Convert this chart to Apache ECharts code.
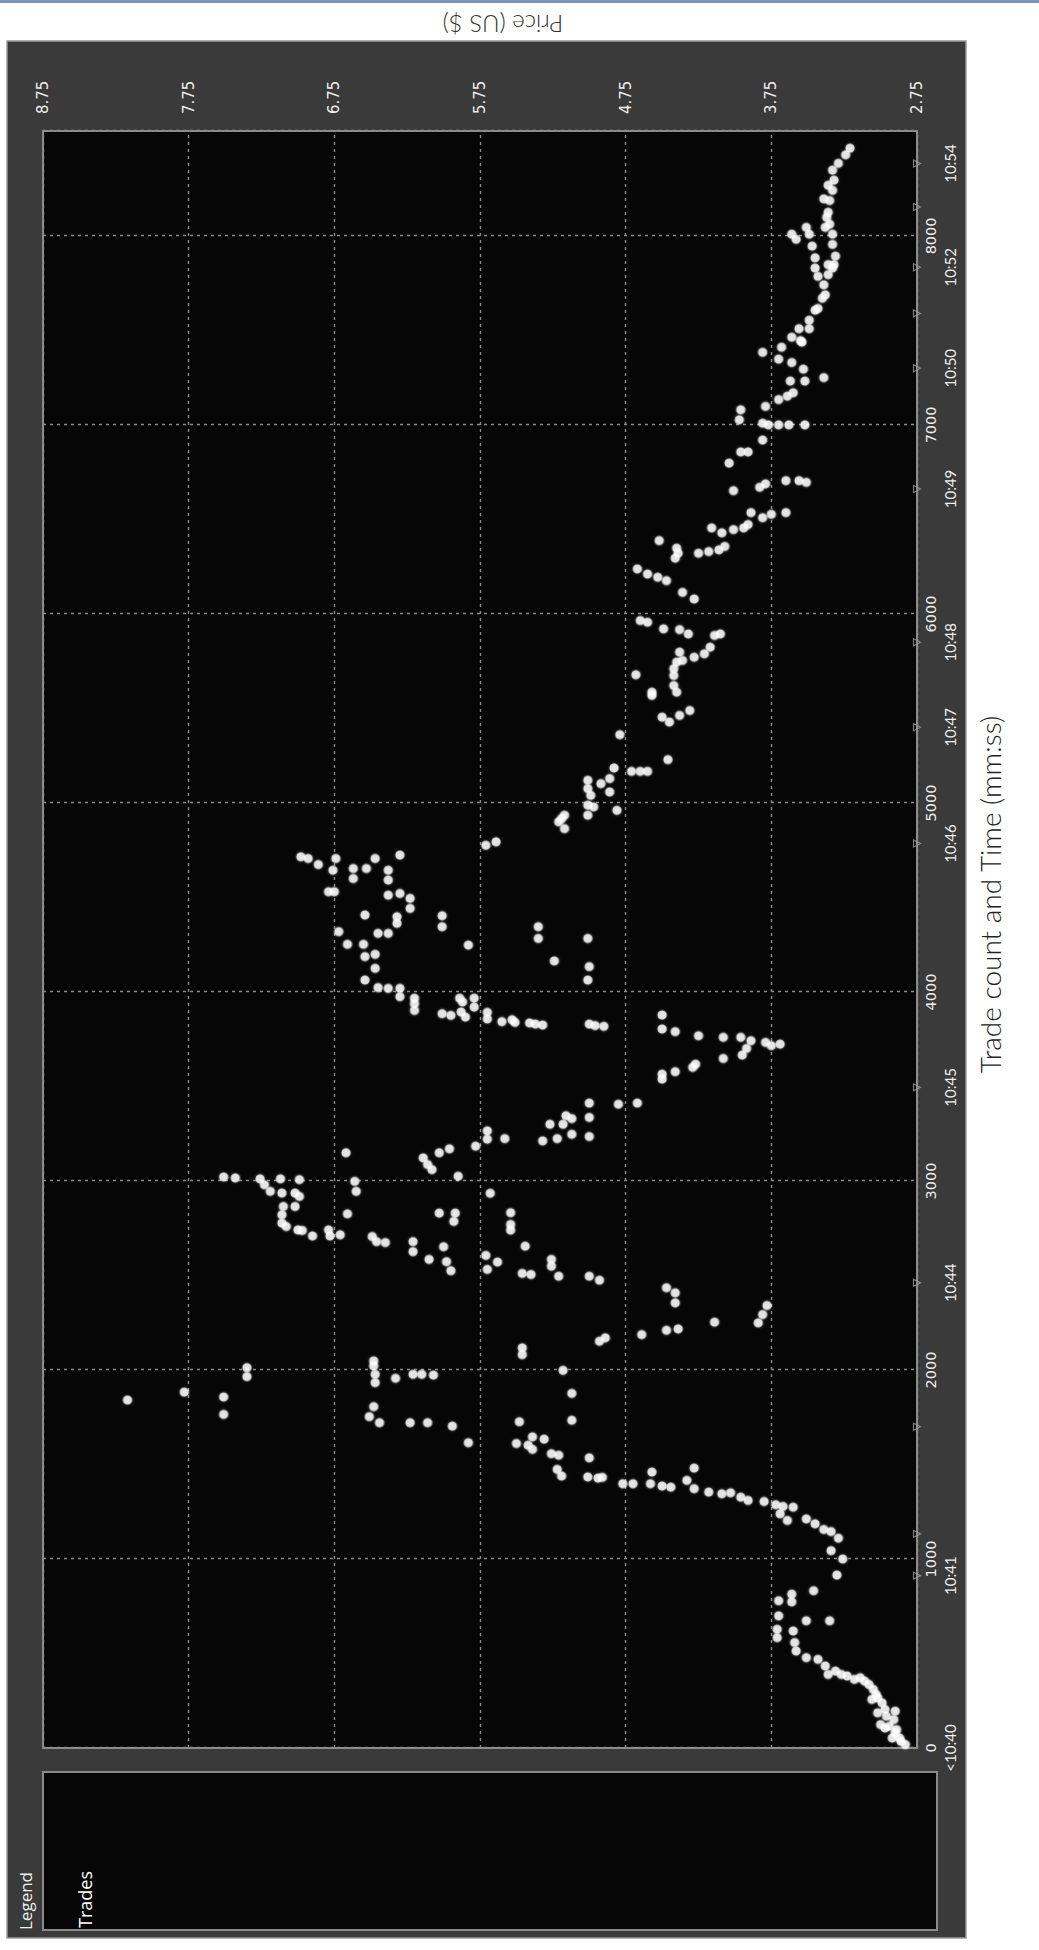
<!DOCTYPE html>
<html><head><meta charset="utf-8">
<script src="https://cdn.jsdelivr.net/npm/echarts@6/dist/echarts.min.js"></script>
<style>
html,body{margin:0;padding:0;background:#fff;width:1039px;height:1950px;overflow:hidden;}
#chart{position:absolute;left:0;top:0;width:1950px;height:1039px;transform-origin:0 0;transform:translate(0,1950px) rotate(-90deg);}
</style></head><body><div id="chart"></div>
<script>
// ---- axis ticks / labels ----
const countTicks = [0, 1000, 2000, 3000, 4000, 5000, 6000, 7000, 8000];
const priceTicks = ['2.75', '3.75', '4.75', '5.75', '6.75', '7.75', '8.75'];
const minuteNames  = ['<10:40', '10:41', '10:42', '10:43', '10:44', '10:45', '10:46', '10:47', '10:48', '10:49', '10:50', '10:51', '10:52', '10:53', '10:54'];
const minuteTrades = [0, 912, 1133, 1700, 2461, 3495, 4785, 5400, 5850, 6661, 7300, 7590, 7834, 8153, 8383];
const minuteLabelShown = ['<10:40', '10:41', '10:44', '10:45', '10:46', '10:47', '10:48', '10:49', '10:50', '10:52', '10:54'];

// ---- trades: [trade count, price US$] ----
const tradesOpen = [[18,2.83],[35,2.86],[53,2.87],[53,2.92],[80,2.90],[97,2.89],[106,2.97],[115,2.94],[124,3.00],[150,2.91],[168,2.96],[186,3.02],[195,2.90],[204,2.97],[239,2.99],[257,3.06],[265,3.02],[283,3.03],[310,3.05],[336,3.08],[354,3.11],[363,3.18],[372,3.14],[381,3.23],[389,3.27],[389,3.36],[407,3.31],[434,3.38],[469,3.43],[478,3.51],[513,3.58],[558,3.59],[584,3.71],[619,3.60],[628,3.71],[673,3.51],[673,3.35],[699,3.70],[773,3.61],[779,3.70],[814,3.61],[832,3.46],[915,3.30],[1000,3.26],[1044,3.34],[1110,3.29],[1145,3.34],[1156,3.39],[1186,3.45],[1204,3.64],[1212,3.51],[1239,3.69],[1274,3.60],[1278,3.67],[1287,3.72],[1304,3.80],[1310,3.91],[1327,3.96],[1350,4.03],[1345,4.09],[1354,4.18],[1372,4.28],[1416,4.33],[1481,4.28],[1380,4.44],[1386,4.50],[1398,4.58],[1460,4.57],[1398,4.70],[1398,4.77],[1432,4.91],[1428,4.94],[1434,5.01],[1535,5.00],[1439,5.19],[1474,5.22],[1549,5.21],[1557,5.26],[1634,5.31],[1580,5.39],[1646,5.39],[1602,5.42],[1611,5.50],[1726,5.48],[1734,5.12],[1876,5.12]];
const tradesSpikeHigh = [[1841,8.17],[1883,7.78],[1857,7.51],[1765,7.51],[2012,7.35],[1965,7.35],[2048,6.48],[2021,6.48],[1977,6.47],[1933,6.47],[1956,6.33],[1977,6.21],[1977,6.15],[1973,6.07],[1806,6.48],[1753,6.51],[1721,6.44],[1721,6.23],[1721,6.11],[1703,5.94],[1615,5.83]];
const tradesMidLow = [[3892,5.70],[3857,5.70],[3843,5.60],[3853,5.53],[3839,5.51],[3836,5.41],[3830,5.37],[3825,5.32],[3830,5.00],[3822,4.96],[3818,4.90],[3878,4.50],[3804,4.50],[3790,4.41],[3768,4.25],[3760,4.08],[3760,3.96],[3742,3.89],[3733,3.79],[3716,3.75],[3724,3.69],[3701,3.92],[3666,3.95],[3648,4.08],[3618,4.27],[3601,4.29],[3578,4.41],[3565,4.50],[3539,4.50],[3412,5.00],[3336,5.00],[3235,5.00],[3406,4.80],[3412,4.67],[3300,5.27],[3300,5.18],[3345,5.16],[3330,5.12],[3247,5.12],[3224,5.22],[3212,5.32],[3224,5.58],[3265,5.70],[3221,5.70],[2935,5.68],[2832,5.54],[2770,5.54],[2740,5.54],[2655,5.44],[2606,5.71],[2532,5.70],[2571,5.63],[2511,5.46],[2505,5.40],[2585,5.26],[2549,5.26],[2496,5.21],[2496,5.00],[2475,4.93],[2435,4.47],[2408,4.41],[2355,4.41],[2187,4.64],[2210,4.47],[2217,4.39],[2253,4.14],[2249,3.84],[2293,3.81],[2341,3.78],[2152,4.93],[2170,4.89],[2117,5.46],[2081,5.46],[1998,5.18]];
const tradesMidHigh = [[3938,6.20],[3902,6.20],[3885,6.01],[3876,5.95],[3894,5.88],[3947,5.87],[3867,5.85],[3920,5.79],[3184,5.78],[3170,5.96],[3149,6.03],[3122,6.14],[3087,6.11],[3060,6.08],[3025,5.90],[3149,6.67],[3021,7.51],[3016,7.43],[3011,7.26],[3011,7.12],[3007,6.99],[2980,7.23],[2945,7.19],[2936,7.11],[2936,7.02],[2918,6.99],[2865,7.10],[2865,7.02],[2821,7.11],[2777,7.11],[2759,7.08],[2741,7.00],[2738,6.97],[2709,6.90],[2741,6.79],[2709,6.78],[2715,6.71],[2998,6.61],[2945,6.60],[2826,6.66],[2706,6.49],[2679,6.46],[2674,6.40],[2679,6.21],[2626,6.21],[2585,6.10],[2830,6.03],[2830,5.92],[2786,5.93],[2652,6.00],[2573,5.98],[2525,5.95]];
const tradesLate = [[4715,6.98],[4706,6.93],[4674,6.86],[4644,6.76],[4706,6.74],[4653,6.62],[4600,6.62],[4653,6.53],[4706,6.47],[4644,6.38],[4592,6.38],[4724,6.30],[4530,6.79],[4530,6.75],[4512,6.38],[4521,6.30],[4495,6.23],[4442,6.23],[4407,6.54],[4398,6.32],[4363,6.32],[4403,6.01],[4345,6.01],[4319,6.72],[4252,6.66],[4310,6.45],[4310,6.38],[4252,6.55],[4187,6.54],[4199,6.47],[4125,6.47],[4063,6.54],[4023,6.45],[4019,6.38],[4019,6.30],[3975,6.30],[3967,6.20],[3967,5.89],[3967,5.79],[4248,5.83],[4345,5.35],[4283,5.35],[4164,5.24],[4283,5.01],[4134,5.00],[4063,5.01],[4776,5.71],[4794,5.64],[4900,5.21],[4935,5.17],[4864,5.17],[4917,5.19],[4935,5.01],[4988,5.01],[5076,5.01],[5120,5.01],[5040,4.99],[4979,4.97],[5102,4.92],[5129,4.86],[5058,4.86],[5185,4.83],[4961,4.81],[5361,4.79],[5167,4.71],[5167,4.65],[5167,4.60],[5229,4.46],[5454,4.50],[5428,4.45],[5463,4.38],[5489,4.31],[5586,4.57],[5569,4.57],[5678,4.68],[5586,4.40],[5621,4.42],[5674,4.42],[5710,4.42],[5745,4.40],[5754,4.36],[5771,4.28],[5789,4.21],[5824,4.17],[5886,4.14],[5798,4.38],[5894,4.10],[5965,4.65],[5956,4.60],[5921,4.49],[5917,4.38],[5894,4.32],[6114,4.36],[6079,4.28],[6238,4.67],[6211,4.60],[6194,4.53],[6176,4.47]];
const tradesClose = [[6388,4.52],[6295,4.41],[6348,4.40],[6321,4.39],[6321,4.25],[6330,4.18],[6339,4.11],[6357,4.07],[6455,4.16],[6429,4.09],[6446,4.01],[6455,3.94],[6536,3.89],[6473,3.91],[6509,3.81],[6527,3.75],[6536,3.65],[6652,4.01],[6798,4.04],[6857,3.96],[6857,3.91],[6670,3.83],[6688,3.79],[6705,3.65],[6705,3.56],[6696,3.51],[7080,3.96],[7027,3.97],[6920,3.81],[7009,3.81],[7000,3.77],[7000,3.70],[7000,3.63],[7000,3.52],[7098,3.79],[7134,3.70],[7152,3.64],[7232,3.62],[7170,3.60],[7330,3.61],[7295,3.53],[7232,3.52],[7250,3.39],[7384,3.81],[7348,3.70],[7411,3.68],[7464,3.61],[7446,3.55],[7509,3.56],[7554,3.49],[7607,3.45],[7670,3.40],[7741,3.39],[7795,3.36],[7848,3.32],[7893,3.31],[7955,3.33],[8009,3.33],[8062,3.35],[8125,3.36],[8187,3.35],[8241,3.33],[8295,3.32],[8348,3.33],[8384,3.29],[8429,3.24],[8464,3.21],[8268,3.36],[8196,3.39],[8098,3.37],[8045,3.38],[7848,3.36],[7786,3.43],[7830,3.45],[7884,3.45],[7946,3.47],[8009,3.49],[8045,3.51],[8009,3.61],[7982,3.58],[7830,3.33],[7688,3.38],[7616,3.43],[7509,3.49],[7438,3.54]];

const allTrades = [].concat(tradesOpen, tradesSpikeHigh, tradesMidLow, tradesMidHigh, tradesLate, tradesClose);
const tickMarks = minuteTrades.slice(1).map(t => [t, 2.75]);
const minuteLabelPos = minuteNames.map((n, i) => minuteLabelShown.indexOf(n) >= 0 ? minuteTrades[i] : null).filter(v => v !== null);
const nameByTrade = {}; minuteNames.forEach((n, i) => { nameByTrade[minuteTrades[i]] = n; });

const chart = echarts.init(document.getElementById('chart'), null, {renderer: 'svg', width: 1950, height: 1039});
const dotted = {color: '#8a8a8a', width: 1.4, type: [3, 4]};
chart.setOption({
  animation: false,
  backgroundColor: '#ffffff',
  graphic: [
    {type: 'rect', z: -10, shape: {x: 12, y: 7, width: 1897, height: 959}, style: {fill: '#3a3a3a', stroke: '#9a9a9a', lineWidth: 1.5}},
    {type: 'rect', z: -9, shape: {x: 20, y: 43, width: 158, height: 894}, style: {fill: '#060606', stroke: '#8a8a8a', lineWidth: 2}},
    {type: 'rect', z: -9, shape: {x: 1947, y: 0, width: 3, height: 1039}, style: {fill: '#7c95bd'}}
  ],
  title: {text: 'Legend', left: 15, top: 12, textStyle: {color: '#eeeeee', fontSize: 17, fontWeight: 'normal', fontFamily: 'Open Sans'}},
  legend: {data: ['Trades'], left: 12, top: 71, itemWidth: 0, itemHeight: 0, icon: 'rect', selectedMode: false,
    textStyle: {color: '#ffffff', fontSize: 18, fontFamily: 'Open Sans'}},
  grid: {left: 202, right: 131, top: 43, bottom: 122, show: true, backgroundColor: '#060606', borderColor: '#8c8c8c', borderWidth: 2},
  xAxis: [
    {type: 'value', min: 0, max: 8555, interval: 1000, position: 'bottom',
     axisLine: {show: false}, axisTick: {show: false},
     axisLabel: {customValues: countTicks, margin: 6, color: '#eeeeee', fontSize: 14.5, fontFamily: 'DejaVu Sans', formatter: v => String(v)},
     splitLine: {show: true, lineStyle: dotted}},
    {type: 'value', min: 0, max: 8555, position: 'bottom',
     axisLine: {show: false}, axisTick: {show: false}, splitLine: {show: false},
     axisLabel: {customValues: minuteLabelPos, margin: 25, color: '#eeeeee', fontSize: 15, fontFamily: 'Lato',
       formatter: v => nameByTrade[v] || ''},
     name: 'Trade count and Time (mm:ss)', nameLocation: 'middle', nameGap: 59,
     nameTextStyle: {color: '#222222', fontSize: 28, fontFamily: 'Lato', fontWeight: 300, padding: [0, 0, 0, 90]}}
  ],
  yAxis: {type: 'value', min: 2.75, max: 8.75, interval: 1, position: 'right',
    axisLine: {show: false}, axisTick: {show: false},
    axisLabel: {margin: 17, color: '#eeeeee', fontSize: 15, fontFamily: 'DejaVu Sans', formatter: v => v.toFixed(2)},
    splitLine: {show: true, lineStyle: dotted},
    name: 'Price (US $)', nameLocation: 'middle', nameRotate: 90, nameGap: 95,
    nameTextStyle: {color: '#333333', fontSize: 24, fontFamily: 'Lato', fontWeight: 300, padding: [0, 46, 0, 0]}},
  series: [
    {name: 'Trades', type: 'scatter', xAxisIndex: 0, yAxisIndex: 0, data: allTrades, symbol: 'circle', symbolSize: 9,
     itemStyle: {color: '#ffffff', shadowBlur: 2, shadowColor: 'rgba(255,255,255,0.6)'}, z: 5},
    {name: 'minute ticks', type: 'scatter', xAxisIndex: 1, yAxisIndex: 0, data: tickMarks, symbol: 'triangle', symbolRotate: 180,
     symbolSize: 7, clip: false, silent: true, itemStyle: {color: 'transparent', borderColor: '#9a9a9a', borderWidth: 1.2}, z: 6}
  ]
});
</script></body></html>
